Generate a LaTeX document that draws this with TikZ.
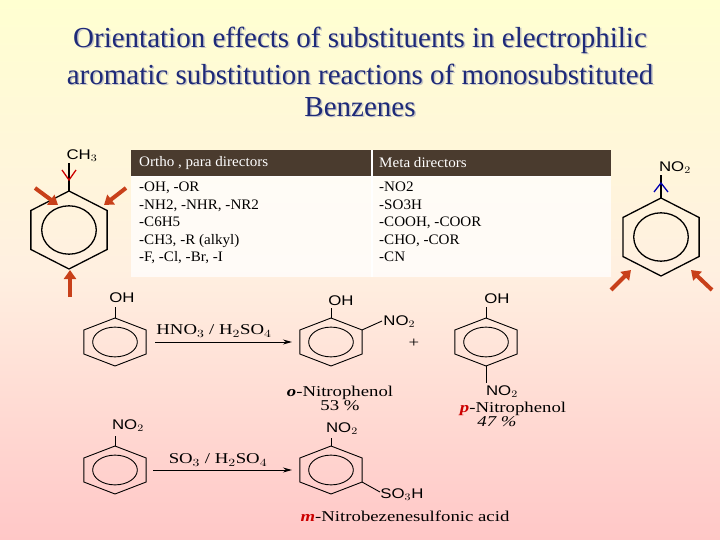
\documentclass[tikz,border=0pt]{standalone}
\usepackage{fontspec}
\setmainfont{Liberation Serif}
\newfontfamily\chemsans{Liberation Sans}
\usetikzlibrary{arrows.meta}
\definecolor{titleblue}{HTML}{1E2A78}
\definecolor{hdr}{HTML}{4A3B2E}
\definecolor{arr}{HTML}{C8401A}
\tikzset{
  bond/.style={line width=0.9pt},
  thick bond/.style={line width=1.3pt},
  sub/.style={font=\chemsans\fontsize{14}{14}\selectfont, inner sep=1pt, xscale=1.2, transform shape},
  lbl/.style={font=\fontsize{15}{15}\selectfont, inner sep=1pt, xscale=1.25, transform shape},
  cell/.style={font=\fontsize{14.5}{17.5}\selectfont, align=left, anchor=north west, inner sep=0pt, xscale=1.04, transform shape},
  fat/.style={arr, line width=4pt, -{Triangle[length=9pt,width=12pt]}},
  react/.style={line width=1pt, -{Stealth[length=9pt,width=5pt]}},
  ttl/.style={font=\fontsize{29}{29}\selectfont, text=titleblue}
}
% #1 x, #2 y, #3 rx, #4 ry, #5 line width
\newcommand\myhex[5]{%
  \draw[line width=#5] (#1,#2) +(0,-#4) -- +(0.866*#3,-0.5*#4) -- +(0.866*#3,0.5*#4) -- +(0,#4) -- +(-0.866*#3,0.5*#4) -- +(-0.866*#3,-0.5*#4) -- cycle;
  \draw[line width=#5] (#1,#2) ellipse ({0.62*#3} and {0.62*#4});}
\begin{document}
\begin{tikzpicture}[x=1pt,y=-1pt]
\shade[top color=yellow!18!white, bottom color=red!22!white, middle color=orange!12!white] (0,0) rectangle (720,540);
\useasboundingbox (0,0) rectangle (720,540);
% title
\foreach \t/\yy in {{Orientation effects of substituents in electrophilic}/40,{aromatic substitution reactions of monosubstituted}/74,{Benzenes}/107}{
  \node[ttl, text=gray!45] at (361.5,\yy+1.5) {\t};
  \node[ttl] (title\yy) at (360,\yy) {\t};}
% table
\fill[white, opacity=0.75] (131,177) rectangle (611,277);
\fill[hdr] (131,150) rectangle (611,177);
\draw[white, line width=1.5pt] (372,150) -- (372,277);
\draw[white, line width=1pt] (131,177) -- (611,177);
\node[cell, text=white, anchor=west] (h1) at (139,163) {Ortho , para directors};
\node[cell, text=white, anchor=west] (h2) at (379,163) {Meta directors};
\node[cell] (c1) at (139,182) {-OH, -OR\\-NH2, -NHR, -NR2\\-C6H5\\-CH3, -R (alkyl)\\-F, -Cl, -Br, -I};
\node[cell] (c2) at (379,182) {-NO2\\-SO3H\\-COOH, -COOR\\-CHO, -COR\\-CN};
% left benzene
\myhex{69}{230}{44}{39}{1.3pt}
\draw[thick bond] (69,191) -- (69,163);
\node[sub] (ch3) at (82,156) {CH$_3$};
\draw[red!80!black, line width=1.3pt] (62,170) -- (69,180) -- (76,170);
\coordinate (lo) at (58,205); \coordinate (ro) at (104,205); \coordinate (pp) at (70,270);
\coordinate (lof) at (35,188); \coordinate (rof) at (126,188); \coordinate (ppf) at (70,297);
\draw[fat] (lof) -- (lo); \draw[fat] (rof) -- (ro); \draw[fat] (ppf) -- (pp);
% right benzene
\myhex{661}{237}{44}{39}{1.3pt}
\draw[thick bond] (661,198) -- (661,175);
\node[sub] (no2r) at (675,168) {NO$_2$};
\draw[blue!70!black, line width=1.3pt] (654,192) -- (661,183) -- (668,192);
\coordinate (lm) at (631,270); \coordinate (rm) at (691,270);
\coordinate (lmf) at (611,290); \coordinate (rmf) at (712,290);
\draw[fat] (lmf) -- (lm); \draw[fat] (rmf) -- (rm);
% reaction 1
\myhex{115}{342}{36}{24}{0.9pt}
\draw[bond] (115,318) -- (115,307);
\node[sub] (oh1) at (122,298) {OH};
\coordinate (a1s) at (155,342); \coordinate (a1e) at (292,342);
\draw[react] (a1s) -- (a1e);
\node[lbl] (r1) at (214,331) {HNO$_3$ / H$_2$SO$_4$};
\myhex{331}{342}{36}{24}{0.9pt}
\draw[bond] (331,318) -- (331,308);
\node[sub] (oh2) at (341,301) {OH};
\draw[bond] (362,330) -- (382,321);
\node[sub, anchor=west] (no2a) at (382,322) {NO$_2$};
\node[lbl] (plus) at (414,343) {+};
\node[lbl] (onp) at (340,393) {\textbf{\textit{o}}-Nitrophenol};
\node[lbl] (p53) at (340,406) {53 \%};
\myhex{486}{342}{36}{24}{0.9pt}
\draw[bond] (486,318) -- (486,307);
\node[sub] (oh3) at (497,299) {OH};
\draw[bond] (486,366) -- (486,383);
\node[sub] (no2p) at (502,392) {NO$_2$};
\node[lbl] (pnp) at (513,409) {\textcolor{red!80!black}{\textbf{\textit{p}}}-Nitrophenol};
\node[lbl] (p47) at (497,422) {\textit{47 \%}};
% reaction 2
\myhex{115}{470}{36}{24}{0.9pt}
\draw[bond] (115,446) -- (115,436);
\node[sub] (no2b) at (128,426) {NO$_2$};
\coordinate (a2s) at (153,470); \coordinate (a2e) at (292,470);
\draw[react] (a2s) -- (a2e);
\node[lbl] (r2) at (218,460) {SO$_3$ / H$_2$SO$_4$};
\myhex{331}{470}{36}{24}{0.9pt}
\draw[bond] (331,446) -- (331,438);
\node[sub] (no2m) at (342,429) {NO$_2$};
\draw[bond] (362,482) -- (380,492);
\node[sub, anchor=west] (so3h) at (379,495) {SO$_3$H};
\node[lbl] (mn) at (405,516) {\textcolor{red!80!black}{\textbf{\textit{m}}}-Nitrobezenesulfonic acid};
\end{tikzpicture}
\end{document}
